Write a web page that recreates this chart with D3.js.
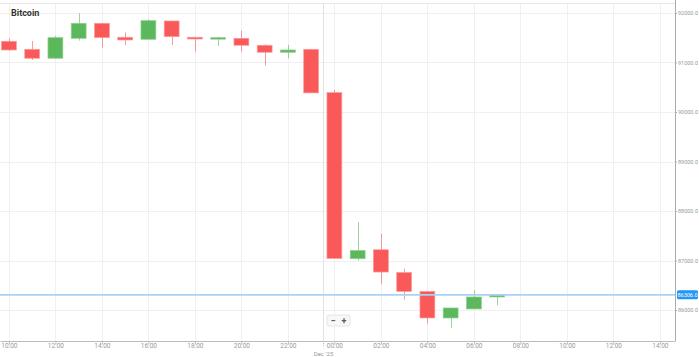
<!DOCTYPE html>
<html><head><meta charset="utf-8">
<script src="https://cdn.jsdelivr.net/npm/d3@7"></script>
<style>html,body{margin:0;padding:0;background:#fff;overflow:hidden}svg{display:block}</style>
</head><body>
<svg id="c" width="699" height="357"></svg>
<script>
const candleTimes = ["2025-12-24T10:00Z","2025-12-24T11:00Z","2025-12-24T12:00Z","2025-12-24T13:00Z","2025-12-24T14:00Z","2025-12-24T15:00Z","2025-12-24T16:00Z","2025-12-24T17:00Z","2025-12-24T18:00Z","2025-12-24T19:00Z","2025-12-24T20:00Z","2025-12-24T21:00Z","2025-12-24T22:00Z","2025-12-24T23:00Z","2025-12-25T00:00Z","2025-12-25T01:00Z","2025-12-25T02:00Z","2025-12-25T03:00Z","2025-12-25T04:00Z","2025-12-25T05:00Z","2025-12-25T06:00Z","2025-12-25T07:00Z"];
const openVals  = [91429,91267,91086,91489,91792,91510,91469,91839,91510,91475,91489,91348,91207,91267,90392,87036,87217,86759,86376,85839,86021,86263];
const highVals  = [91489,91435,91536,91994,91792,91611,91873,91839,91510,91516,91643,91368,91354,91267,90446,87776,87540,86834,86376,86041,86396,86306];
const lowVals   = [91239,91052,91080,91441,91300,91354,91469,91354,91219,91334,91219,90937,91086,90386,87042,87001,86531,86208,85724,85637,86021,86093];
const closeVals = [91253,91086,91502,91792,91502,91455,91845,91522,91475,91502,91348,91207,91253,90386,87042,87203,86767,86376,85839,86041,86263,86306];
const yTickValues = [86000,87000,88000,89000,90000,91000,92000];
const xDomain = ["2025-12-24T09:37Z","2025-12-25T14:39Z"];
const daySeparator = "2025-12-24T23:30Z";
const dayLabel = "Dec '25";
const title = "Bitcoin";
const lastPrice = 86306;

const svg = d3.select("#c");
const L = 0, R = 675, T = 3, B = 341;
const x = d3.scaleUtc().domain(xDomain.map(d => new Date(d))).range([L, R]);
const y = d3.scaleLinear().domain([86000, 92000]).range([310, 13]);
const up = "#5cb85c", down = "#f95959";
const data = candleTimes.map((t, i) => ({t: new Date(t), o: openVals[i], h: highVals[i], l: lowVals[i], c: closeVals[i]}));
const xTicks = x.ticks(d3.utcHour.every(2));

// grid
const grid = svg.append("g");
grid.selectAll("line.h").data(yTickValues).join("line")
  .attr("x1", L).attr("x2", R).attr("y1", d => Math.round(y(d)) + 0.5).attr("y2", d => Math.round(y(d)) + 0.5)
  .attr("stroke", "#f0f0f0");
grid.selectAll("line.v").data(xTicks).join("line")
  .attr("x1", d => Math.round(x(d)) + 0.5).attr("x2", d => Math.round(x(d)) + 0.5).attr("y1", T).attr("y2", B)
  .attr("stroke", "#f0f0f0");
grid.append("line").attr("x1", L).attr("x2", R).attr("y1", T + 0.5).attr("y2", T + 0.5).attr("stroke", "#e8e8e8");

// day separator
const ds = Math.round(x(new Date(daySeparator))) + 0.5;
svg.append("line").attr("x1", ds).attr("x2", ds).attr("y1", T).attr("y2", B).attr("stroke", "#e2e2e2");
svg.append("line").attr("x1", ds).attr("x2", ds).attr("y1", B).attr("y2", B + 6).attr("stroke", "#bbb").attr("stroke-dasharray", "1,1");
svg.append("text").attr("x", ds).attr("y", 356).attr("text-anchor", "middle")
  .attr("font-family", "Roboto, sans-serif").attr("font-size", 6).attr("fill", "#999").text(dayLabel);

// axes
const xAxis = svg.append("g").attr("transform", `translate(0,${B})`)
  .call(d3.axisBottom(x).tickValues(xTicks).tickFormat(d3.utcFormat("%H:%M")).tickSize(3).tickSizeOuter(0));
xAxis.select(".domain").attr("stroke", "#bbb");
xAxis.selectAll(".tick line").attr("stroke", "#bbb");
xAxis.selectAll("text").attr("font-family", "Roboto, sans-serif").attr("font-size", 6.5).attr("fill", "#999")
  .attr("y", 7).attr("dy", 0);

const yAxis = svg.append("g").attr("transform", `translate(${R},0)`)
  .call(d3.axisRight(y).tickValues(yTickValues).tickFormat(d3.format(".1f")).tickSize(2).tickSizeOuter(0));
yAxis.select(".domain").attr("stroke", "#aaa").attr("d", `M0.5,0V${B}`);
yAxis.selectAll(".tick line").attr("stroke", "#aaa");
yAxis.selectAll("text").attr("font-family", "Roboto, sans-serif").attr("font-size", 5.5).attr("fill", "#999").attr("x", 3);

// candles
const bw = (x(new Date(candleTimes[1])) - x(new Date(candleTimes[0]))) * 0.64;
const cg = svg.append("g");
cg.selectAll("line.w").data(data).join("line")
  .attr("x1", d => Math.round(x(d.t)) + 0.5).attr("x2", d => Math.round(x(d.t)) + 0.5)
  .attr("y1", d => y(d.h)).attr("y2", d => y(d.l))
  .attr("stroke", d => d.c >= d.o ? up : down).attr("stroke-opacity", 0.6);
cg.selectAll("rect").data(data).join("rect")
  .attr("x", d => x(d.t) - bw / 2).attr("width", bw)
  .attr("y", d => y(Math.max(d.o, d.c))).attr("height", d => Math.max(1.5, Math.abs(y(d.o) - y(d.c))))
  .attr("fill", d => d.c >= d.o ? up : down)
  .attr("stroke", d => d.c >= d.o ? "#8fd08f" : "#fb9a9a").attr("stroke-width", 0.7);

// last price line
const ly = y(lastPrice);
svg.append("line").attr("x1", L).attr("x2", R).attr("y1", ly).attr("y2", ly).attr("stroke", "#a9d3f3").attr("stroke-width", 1.6);
svg.append("rect").attr("x", R + 2).attr("y", ly - 4.5).attr("width", 21).attr("height", 9).attr("rx", 1.5).attr("fill", "#2196f3");
svg.append("text").attr("x", R + 12.5).attr("y", ly + 2).attr("text-anchor", "middle")
  .attr("font-family", "Roboto, sans-serif").attr("font-size", 5.5).attr("fill", "#fff").text(d3.format(".1f")(lastPrice));

// title
svg.append("text").attr("x", 11).attr("y", 16).attr("font-family", "Roboto, sans-serif").attr("font-weight", "bold")
  .attr("font-size", 9).attr("fill", "#333").text(title);

// zoom buttons
const zb = svg.append("g").attr("transform", "translate(327,315)");
zb.append("rect").attr("width", 23).attr("height", 11).attr("rx", 2).attr("fill", "#f7f7f7").attr("stroke", "#e6e6e6");
zb.append("text").attr("x", 6).attr("y", 8.5).attr("text-anchor", "middle").attr("font-family", "Roboto, sans-serif").attr("font-weight", "bold").attr("font-size", 9).attr("fill", "#555").text("−");
zb.append("text").attr("x", 17).attr("y", 8.5).attr("text-anchor", "middle").attr("font-family", "Roboto, sans-serif").attr("font-weight", "bold").attr("font-size", 9).attr("fill", "#555").text("+");
</script>
</body></html>
